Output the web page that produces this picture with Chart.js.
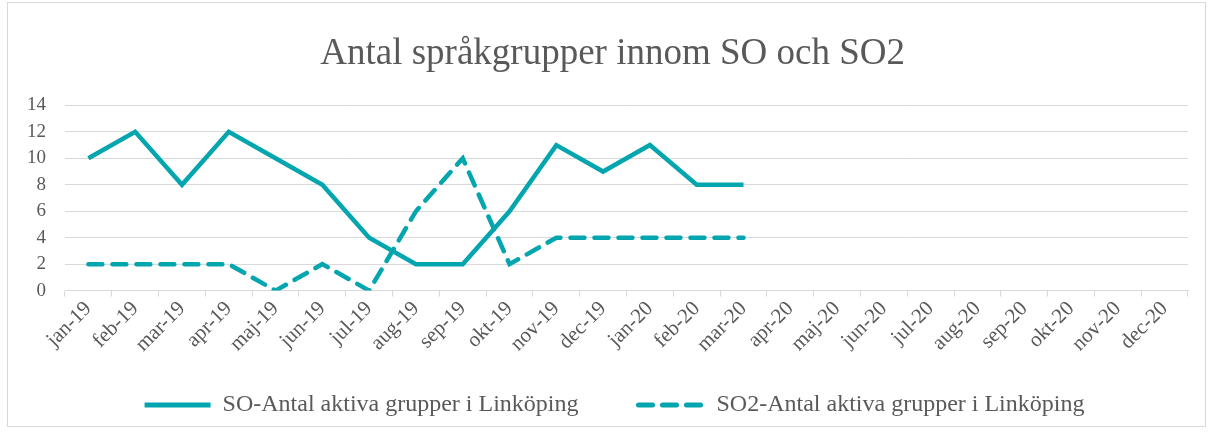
<!DOCTYPE html>
<html>
<head>
<meta charset="utf-8">
<script src="https://cdn.jsdelivr.net/npm/chart.js@4"></script>
<style>
  body { margin: 0; background: #fff; overflow: hidden; }
  #frame {
    position: absolute; left: 7px; top: 2px;
    width: 1199px; height: 425px;
    border: 1px solid #d9d9d9; box-sizing: border-box;
  }
  #wrap {
    position: absolute; left: 8px; top: 3px;
    width: 1197px; height: 424px;
  }
</style>
</head>
<body>
<div id="frame"></div>
<div id="wrap"><canvas id="chart"></canvas></div>
<script>
const months = [
  "jan-19", "feb-19", "mar-19", "apr-19", "maj-19", "jun-19", "jul-19", "aug-19",
  "sep-19", "okt-19", "nov-19", "dec-19", "jan-20", "feb-20", "mar-20", "apr-20",
  "maj-20", "jun-20", "jul-20", "aug-20", "sep-20", "okt-20", "nov-20", "dec-20"
];
const soValues = [10, 12, 8, 12, 10, 8, 4, 2, 2, 6, 11, 9, 11, 8, 8,
  null, null, null, null, null, null, null, null, null];
const so2Values = [2, 2, 2, 2, 0, 2, 0, 6, 10, 2, 4, 4, 4, 4, 4,
  null, null, null, null, null, null, null, null, null];
const yTicks = [0, 2, 4, 6, 8, 10, 12, 14];

const teal = "#03A5AF";
const grey = "#595959";
const serif = "'Liberation Serif', 'Times New Roman', serif";
const nbsp = (n) => "\u00A0".repeat(n);

new Chart(document.getElementById("chart"), {
  type: "line",
  data: {
    labels: months,
    datasets: [
      {
        label: "SO-Antal aktiva grupper i Linköping",
        data: soValues,
        borderColor: teal,
        borderWidth: 4.5,
        borderJoinStyle: "miter",
        pointRadius: 0,
        tension: 0
      },
      {
        label: "SO2-Antal aktiva grupper i Linköping",
        data: so2Values,
        borderColor: teal,
        borderWidth: 4.5,
        borderDash: [14, 10],
        borderCapStyle: "round",
        pointRadius: 0,
        tension: 0
      }
    ]
  },
  options: {
    responsive: true,
    maintainAspectRatio: false,
    animation: false,
    layout: { padding: { top: 29, left: 0, right: 17, bottom: 0 } },
    plugins: {
      title: {
        display: true,
        fullSize: false,
        // trailing spaces nudge the centred title to the original's spot
        text: "Antal språkgrupper innom SO och SO2" + nbsp(3),
        color: grey,
        font: { family: serif, size: 37, weight: "normal" },
        padding: { top: 0, bottom: 29 }
      },
      legend: {
        position: "bottom",
        fullSize: false,
        labels: {
          color: grey,
          font: { family: serif, size: 24 },
          usePointStyle: true,
          pointStyle: "line",
          pointStyleWidth: 66,
          boxHeight: 10,
          padding: 36,
          generateLabels: (chart) => {
            const items = Chart.defaults.plugins.legend.labels.generateLabels(chart);
            items.forEach((it) => {
              const ds = chart.data.datasets[it.datasetIndex];
              it.lineDash = ds.borderDash || [];
              it.lineCap = ds.borderCapStyle || "butt";
              it.lineWidth = 5;
              it.strokeStyle = ds.borderColor;
              // spacing so the two entries sit where the original has them
              it.text = it.text + nbsp(4);
            });
            return items;
          }
        }
      },
      tooltip: { enabled: false }
    },
    scales: {
      x: {
        offset: true,
        afterFit: (scale) => {
          scale.paddingLeft = 0;
          scale.paddingRight = 0;
        },
        grid: {
          offset: true,
          drawOnChartArea: false,
          drawTicks: true,
          tickLength: 6,
          color: "#d9d9d9"
        },
        border: { color: "#d9d9d9" },
        ticks: {
          color: grey,
          font: { family: serif, size: 21 },
          maxRotation: 45,
          minRotation: 45,
          autoSkip: false,
          padding: 0
        }
      },
      y: {
        min: 0,
        max: 14,
        afterBuildTicks: (axis) => {
          axis.ticks = yTicks.map((v) => ({ value: v }));
        },
        grid: { color: "#d9d9d9", drawTicks: false },
        border: { display: false },
        ticks: {
          color: grey,
          font: { family: serif, size: 19 },
          padding: 19
        }
      }
    }
  }
});
</script>
</body>
</html>
